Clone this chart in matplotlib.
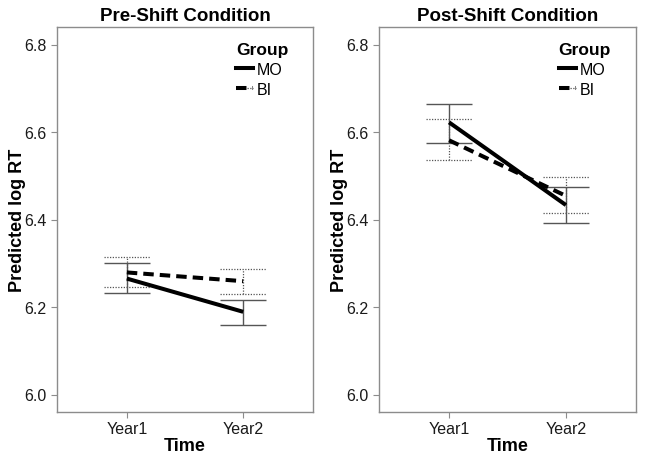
import matplotlib
matplotlib.use("Agg")
import matplotlib.pyplot as plt
from matplotlib.lines import Line2D

plt.rcParams['font.family'] = ['Liberation Sans', 'DejaVu Sans']

times = ["Year1", "Year2"]
groups = ["MO", "BI"]
panels = ["Pre-Shift Condition", "Post-Shift Condition"]

# predicted values and error bar bounds per panel
pre_mo = [6.265, 6.189]
pre_mo_lo = [6.233, 6.160]
pre_mo_hi = [6.301, 6.216]
pre_bi = [6.279, 6.259]
pre_bi_lo = [6.246, 6.229]
pre_bi_hi = [6.315, 6.288]

post_mo = [6.622, 6.433]
post_mo_lo = [6.574, 6.392]
post_mo_hi = [6.665, 6.474]
post_bi = [6.581, 6.454]
post_bi_lo = [6.537, 6.414]
post_bi_hi = [6.629, 6.497]

yticks = [6.0, 6.2, 6.4, 6.6, 6.8]

fig = plt.figure(figsize=(6.45, 4.6), dpi=100)
ax_pos = [[57/645, 47/460, 256/645, 385/460], [379/645, 47/460, 257/645, 385/460]]

data = [
    (pre_mo, pre_mo_lo, pre_mo_hi, pre_bi, pre_bi_lo, pre_bi_hi),
    (post_mo, post_mo_lo, post_mo_hi, post_bi, post_bi_lo, post_bi_hi),
]

spine_c = '#8c8c8c'
err_c = '#555555'
txt_c = '#1a1a1a'
bi_dash = (0, (2.6, 1.5))

for i, (title, d) in enumerate(zip(panels, data)):
    ax = fig.add_axes(ax_pos[i])
    mo, mo_lo, mo_hi, bi, bi_lo, bi_hi = d
    x = list(range(1, len(times) + 1))
    w = 0.2
    # error bars
    for xi, lo, hi in zip(x, mo_lo, mo_hi):
        ax.vlines(xi, lo, hi, color=err_c, lw=1.0)
        ax.hlines([lo, hi], xi - w, xi + w, color=err_c, lw=1.0)
    for xi, lo, hi in zip(x, bi_lo, bi_hi):
        ax.vlines(xi, lo, hi, color=err_c, lw=0.9, linestyles=[(0, (1, 1.2))])
        ax.hlines([lo, hi], xi - w, xi + w, color=err_c, lw=0.9, linestyles=[(0, (1, 1.2))])
    ax.plot(x, mo, color='black', lw=2.9, solid_capstyle='butt')
    ax.plot(x, bi, color='black', lw=2.9, linestyle=bi_dash, dash_capstyle='butt')

    ax.set_xlim(0.4, 2.6)
    ax.set_ylim(5.96, 6.84)
    ax.set_xticks(x)
    ax.set_xticklabels(times)
    ax.set_yticks(yticks)
    ax.set_yticklabels([f"{v:.1f}" for v in yticks])
    ax.tick_params(colors=spine_c, labelcolor=txt_c, labelsize=11.5, length=4, width=0.8)
    ax.tick_params(axis='x', pad=2.5)
    for s in ax.spines.values():
        s.set_color(spine_c)
        s.set_linewidth(1.0)
    ax.set_title(title, fontsize=13.5, fontweight='bold', pad=5)
    ax.set_xlabel("Time", fontsize=13, fontweight='bold', labelpad=1)
    ax.set_ylabel("Predicted log RT", fontsize=13, fontweight='bold')
    ax.yaxis.set_label_coords(-0.122, 0.5)

    h_mo = (Line2D([], [], color=err_c, lw=0.9), Line2D([], [], color='black', lw=2.9))
    h_bi = (Line2D([], [], color=err_c, lw=0.9, linestyle=(0, (1, 1.2))),
            Line2D([], [], color='black', lw=2.9, linestyle=bi_dash))
    leg = ax.legend([h_mo, h_bi], groups, title="Group", loc='upper left',
                    bbox_to_anchor=(0.655, 0.99), frameon=False, fontsize=11.5,
                    handlelength=1.1, handletextpad=0.2, labelspacing=0.3,
                    borderpad=0.2)
    leg.get_title().set_fontweight('bold')
    leg.get_title().set_fontsize(12.5)
    leg._legend_box.align = 'left'

fig.savefig("out.png", dpi=100, facecolor='white')
